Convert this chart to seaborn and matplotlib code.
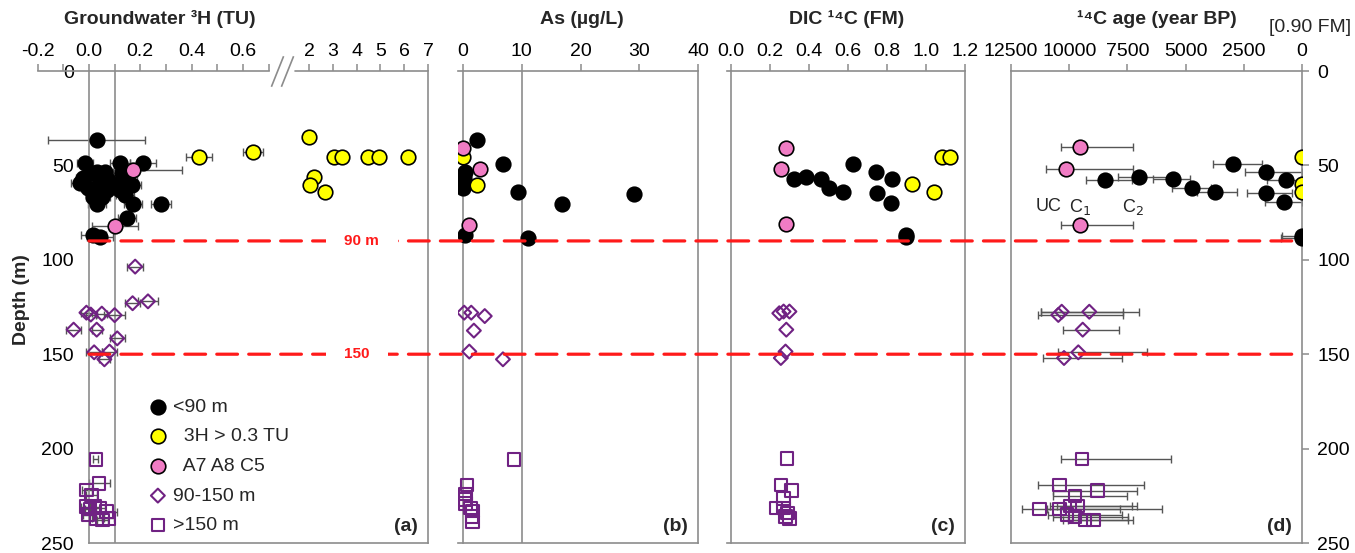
import numpy as np
import matplotlib
matplotlib.use("Agg")
import matplotlib.pyplot as plt
import seaborn as sns
from matplotlib.patches import ConnectionPatch
from matplotlib.path import Path
from matplotlib.ticker import FormatStrFormatter

sns.set_style("white")
plt.rcParams['font.family'] = ['Liberation Sans', 'DejaVu Sans']

# ---------------------------------------------------------------- data
# Panel (a): groundwater tritium (TU) with 1-sigma uncertainty
h3_shallow_tu = [0.03, -0.016, 0.12, 0.21, -0.035, -0.022, 0.01, 0.03, 0.062, 0.043,
                 0.075, -0.003, 0.03, 0.069, 0.017, 0.05, 0.03, 0.127, 0.147, 0.166,
                 0.12, 0.14, 0.10, 0.17, 0.28, 0.147, 0.017, 0.043]
h3_shallow_depth = [36.5, 48.9, 48.9, 48.5, 59.5, 56.8, 54.2, 53.3, 53.3, 57.7,
                    57.7, 62.1, 63.0, 63.0, 66.6, 66.6, 70.5, 54.2, 57.7, 60.4,
                    63.0, 65.7, 60.4, 70.5, 70.5, 78.0, 86.9, 88.1]
h3_shallow_err = [0.19, 0.03, 0.04, 0.05, 0.035, 0.03, 0.03, 0.03, 0.03, 0.03,
                  0.035, 0.03, 0.03, 0.03, 0.03, 0.03, 0.035, 0.035, 0.04, 0.035,
                  0.035, 0.035, 0.03, 0.035, 0.04, 0.035, 0.05, 0.05]
h3_trit_tu = [0.43, 0.64, 2.02, 3.04, 3.40, 4.46, 4.93, 6.16, 2.19, 2.05, 2.69]
h3_trit_depth = [45.7, 42.7, 34.8, 45.7, 45.7, 45.7, 45.7, 45.7, 56.0, 60.4, 63.9]
h3_trit_err = [0.05, 0.04, 0, 0, 0, 0, 0, 0, 0, 0, 0]
h3_pink_tu = [0.173, 0.10]
h3_pink_depth = [52.4, 82.1]
h3_pink_err = [0.19, 0.09]
h3_mid_tu = [0.18, 0.17, 0.23, -0.01, 0.007, 0.05, 0.10, -0.06, 0.03, 0.11, 0.02, 0.08, 0.06]
h3_mid_depth = [103.6, 123.0, 122.0, 128.0, 129.0, 128.5, 129.3, 137.0, 137.0, 141.6,
                149.0, 148.6, 152.7]
h3_mid_err = [0.03, 0.03, 0.04, 0.02, 0.02, 0.02, 0.04, 0.03, 0.02, 0.03, 0.03, 0.03, 0.02]
h3_deep_tu = [0.027, 0.04, -0.009, 0.01, -0.012, 0.004, 0.023, 0.043, 0.069, -0.003,
              0.03, 0.053, 0.079]
h3_deep_depth = [205.7, 218.4, 222.0, 224.6, 230.7, 232.0, 230.7, 231.5, 233.4, 235.0,
                 237.0, 237.8, 237.0]
h3_deep_err = [0.01, 0.04, 0.02, 0.02, 0.02, 0.02, 0.02, 0.02, 0.04, 0.02, 0.02, 0.02, 0.02]

# Panel (b): arsenic (ug/L)
as_shallow = [2.4, 6.85, 0.34, 0.2, 0.1, 0.0, 9.4, 29.1, 16.9, 0.34, 11.1]
as_shallow_depth = [36.5, 49.3, 53.3, 56.8, 59.5, 62.1, 64.3, 65.3, 70.4, 86.9, 88.6]
as_pink = [0.05, 2.9, 1.07]
as_pink_depth = [40.6, 52.0, 81.6]
as_trit = [0.05, 2.3]
as_trit_depth = [45.4, 60.4]
as_mid = [0.2, 1.4, 3.7, 1.85, 1.07, 6.8]
as_mid_depth = [128.0, 128.0, 129.8, 137.5, 148.6, 152.7]
as_deep = [8.7, 0.65, 0.45, 0.3, 0.45, 1.25, 1.6, 1.5, 1.6]
as_deep_depth = [205.7, 219.3, 224.0, 227.0, 229.0, 231.5, 233.0, 236.0, 239.0]

# Panel (c): DIC radiocarbon (fraction modern)
fm_shallow = [0.325, 0.385, 0.46, 0.504, 0.573, 0.627, 0.742, 0.827, 0.747, 0.819, 0.897, 0.90]
fm_shallow_depth = [57.4, 56.0, 57.4, 62.1, 63.9, 49.3, 53.3, 57.4, 64.8, 69.7, 86.9, 88.0]
fm_pink = [0.282, 0.256, 0.282]
fm_pink_depth = [40.6, 52.0, 81.0]
fm_trit = [1.08, 1.123, 0.93, 1.041]
fm_trit_depth = [45.4, 45.4, 60.0, 63.9]
fm_mid = [0.248, 0.27, 0.30, 0.284, 0.28, 0.256]
fm_mid_depth = [128.3, 127.4, 127.4, 137.0, 148.6, 152.0]
fm_deep = [0.288, 0.256, 0.31, 0.27, 0.23, 0.27, 0.29, 0.30, 0.28]
fm_deep_depth = [205.3, 219.3, 222.3, 226.5, 231.6, 231.6, 234.0, 237.0, 236.0]

# Panel (d): 14C age (years BP) with range between correction models (old end, young end)
age_shallow = [2950, 1546, 687, 8462, 7000, 5555, 4738, 3737, 1546, 773, 0, 20]
age_shallow_depth = [49.3, 53.7, 57.7, 57.7, 56.3, 57.2, 62.0, 63.9, 64.8, 69.6, 87.2, 88.5]
age_shallow_old = [3836, 2448, 1517, 9278, 7890, 6387, 5597, 4500, 2375, 1590, 872, 900]
age_shallow_young = [1731, 14, 14, 7300, 5597, 4800, 3900, 2806, 442, 14, 0, 0]
age_pink = [9536, 10137, 9536]
age_pink_depth = [40.4, 52.0, 81.6]
age_pink_old = [10365, 10997, 10365]
age_pink_young = [7247, 7247, 7247]
age_trit = [0, 0, 0]
age_trit_depth = [45.4, 60.0, 63.9]
age_mid = [10322, 10468, 9137, 9420, 9609, 10223]
age_mid_depth = [127.5, 129.2, 127.5, 137.0, 149.0, 152.0]
age_mid_old = [11224, 11327, 11224, 10279, 10468, 11138]
age_mid_young = [7702, 7702, 7000, 7848, 6670, 7745]
age_deep = [9450, 10425, 8776, 9751, 11284, 10425, 9966, 9635, 10107, 9751, 9321, 8963]
age_deep_depth = [205.5, 219.3, 222.3, 225.0, 232.0, 232.0, 230.4, 230.4, 235.0, 236.0,
                  237.8, 237.8]
age_deep_old = [10352, 11327, 10682, 10682, 12040, 10966, 10824, 10537, 10896, 10682,
                10252, 10038]
age_deep_young = [5627, 6787, 7100, 7530, 6026, 7818, 7315, 7100, 7745, 7460, 7460, 7247]

# correction-model labels (uncorrected, C1, C2) and their position on the age axis
corr_labels = ["UC", "C$_1$", "C$_2$"]
corr_ages = [10900, 9536, 7247]
corr_depth = 72

threshold_depths = [90, 150]
threshold_labels = ["90 m", "150"]

# ---------------------------------------------------------------- styles
PURPLE = "#702283"
PINK = "#F07CC4"
YELLOW = "#FFFF00"
SPINE = "#8C8C8C"
ERR = "#555555"
FS = 14

STYLE = {
    "shallow": dict(marker="o", s=110, facecolor="black", edgecolor="black", linewidth=1.2),
    "trit": dict(marker="o", s=110, facecolor=YELLOW, edgecolor="black", linewidth=1.2),
    "pink": dict(marker="o", s=110, facecolor=PINK, edgecolor="black", linewidth=1.2),
    "mid": dict(marker="D", s=50, facecolor="none", edgecolor=PURPLE, linewidth=1.5),
    "deep": dict(marker="s", s=80, facecolor="none", edgecolor=PURPLE, linewidth=1.5),
}
LABELS = {"shallow": "<90 m", "trit": "  3H > 0.3 TU", "pink": "  A7 A8 C5",
          "mid": "90-150 m", "deep": ">150 m"}


def draw(ax, key, x, y, xerr=None, label=False):
    if xerr is not None:
        ax.errorbar(x, y, xerr=xerr, fmt="none", ecolor=ERR, elinewidth=1,
                    capsize=3, capthick=1, zorder=2)
    kw = dict(STYLE[key])
    if label:
        kw["label"] = LABELS[key]
    sns.scatterplot(x=x, y=y, ax=ax, zorder=3, **kw)


# broken x-scale for tritium: 0..0.7 linear, then compressed 1.43..7
A0, B0, G, R = 0.7, 1.43, 0.105, 0.0928


def fwd(x):
    x = np.asarray(x, float)
    return np.where(x <= A0, x,
                    np.where(x < B0, A0 + (x - A0) * G / (B0 - A0), A0 + G + (x - B0) * R))


def inv(t):
    t = np.asarray(t, float)
    return np.where(t <= A0, t,
                    np.where(t < A0 + G, A0 + (t - A0) * (B0 - A0) / G, B0 + (t - A0 - G) / R))


fig = plt.figure(figsize=(13.55, 5.53), dpi=100)
bot, hgt = 0.01808, 0.8535
ax_a = fig.add_axes([0.02782, bot, 0.28805, hgt])
ax_b = fig.add_axes([0.33823, bot, 0.1769, hgt])
ax_c = fig.add_axes([0.53653, bot, 0.17565, hgt])
ax_d = fig.add_axes([0.74613, bot, 0.21476, hgt])

# ---------------- panel (a)
ax_a.set_xscale("function", functions=(fwd, inv))
ax_a.axvline(0.1, color=SPINE, lw=1.2, zorder=1)
draw(ax_a, "shallow", h3_shallow_tu, h3_shallow_depth, h3_shallow_err, label=True)
draw(ax_a, "trit", h3_trit_tu, h3_trit_depth, h3_trit_err, label=True)
draw(ax_a, "pink", h3_pink_tu, h3_pink_depth, h3_pink_err, label=True)
draw(ax_a, "mid", h3_mid_tu, h3_mid_depth, h3_mid_err, label=True)
draw(ax_a, "deep", h3_deep_tu, h3_deep_depth, h3_deep_err, label=True)

# ---------------- panel (b)
ax_b.axvline(10, color=SPINE, lw=1.2, zorder=1)
draw(ax_b, "shallow", as_shallow, as_shallow_depth)
draw(ax_b, "trit", as_trit, as_trit_depth)
draw(ax_b, "pink", as_pink, as_pink_depth)
draw(ax_b, "mid", as_mid, as_mid_depth)
draw(ax_b, "deep", as_deep, as_deep_depth)

# ---------------- panel (c)
draw(ax_c, "shallow", fm_shallow, fm_shallow_depth)
draw(ax_c, "trit", fm_trit, fm_trit_depth)
draw(ax_c, "pink", fm_pink, fm_pink_depth)
draw(ax_c, "mid", fm_mid, fm_mid_depth)
draw(ax_c, "deep", fm_deep, fm_deep_depth)


# ---------------- panel (d)
def age_err(age, old, young):
    a, o, y = map(np.asarray, (age, old, young))
    return np.vstack([a - y, o - a])


draw(ax_d, "shallow", age_shallow, age_shallow_depth,
     age_err(age_shallow, age_shallow_old, age_shallow_young))
draw(ax_d, "trit", age_trit, age_trit_depth)
draw(ax_d, "pink", age_pink, age_pink_depth, age_err(age_pink, age_pink_old, age_pink_young))
draw(ax_d, "mid", age_mid, age_mid_depth, age_err(age_mid, age_mid_old, age_mid_young))
draw(ax_d, "deep", age_deep, age_deep_depth, age_err(age_deep, age_deep_old, age_deep_young))
for lab, a in zip(corr_labels, corr_ages):
    ax_d.text(a, corr_depth, lab, fontsize=FS - 1, ha="center", va="center")

# ---------------- common axis styling
for ax in (ax_a, ax_b, ax_c, ax_d):
    ax.set_ylim(250, 0)
    ax.set_yticks(range(0, 251, 50))
    ax.set_xlabel("")
    ax.set_ylabel("")
    for sp in ax.spines.values():
        sp.set_color(SPINE)
        sp.set_linewidth(1.2)
    ax.xaxis.tick_top()
    ax.tick_params(axis="both", direction="out", length=5, width=1.1, color=SPINE,
                   labelsize=FS, labelcolor="black")
    ax.tick_params(axis="x", pad=3)
    ax.tick_params(axis="y", pad=6)

# panel (a) axes with break
ax_a.set_xlim(-0.2, 7)
a_ticks = [-0.2, -0.1, 0, 0.1, 0.2, 0.3, 0.4, 0.5, 0.6, 0.7, 2, 3, 4, 5, 6, 7]
a_labels = ["-0.2", "", "0.0", "", "0.2", "", "0.4", "", "0.6", "", "2", "3", "4", "5", "6", "7"]
ax_a.set_xticks(a_ticks)
ax_a.set_xticklabels(a_labels)
ax_a.minorticks_off()
ax_a.spines["left"].set_position(("data", 0))
ax_a.spines["top"].set_bounds(-0.2, A0)
ax_a.spines["bottom"].set_bounds(0, 7)
ax_a.plot([B0, 7], [1, 1], transform=ax_a.get_xaxis_transform(), color=SPINE,
          lw=1.2, clip_on=False, zorder=5)
slash = Path([(-0.4, -1.0), (0.4, 1.0)], [Path.MOVETO, Path.LINETO])
brk = (A0 + B0) / 2
ax_a.plot([brk - 0.13, brk + 0.13], [1, 1], transform=ax_a.get_xaxis_transform(),
          linestyle="none", marker=slash, markersize=22, markeredgecolor=SPINE,
          markeredgewidth=1.2, clip_on=False, zorder=5)

# panel (b)
ax_b.set_xlim(-0.8, 40)
ax_b.set_xticks([0, 10, 20, 30, 40])
ax_b.spines["left"].set_position(("data", 0))
ax_b.tick_params(axis="y", labelleft=False)

# panel (c)
ax_c.set_xlim(-0.02, 1.2)
ax_c.set_xticks(np.arange(0, 1.21, 0.2))
ax_c.xaxis.set_major_formatter(FormatStrFormatter("%.1f"))
ax_c.spines["left"].set_position(("data", 0))
ax_c.tick_params(axis="y", labelleft=False)

# panel (d)
ax_d.set_xlim(12500, 0)
ax_d.set_xticks([12500, 10000, 7500, 5000, 2500, 0])
ax_d.yaxis.tick_right()
ax_d.tick_params(axis="y", labelright=True, labelleft=False)
ax_d.text(1.027, 1.093, "[0.90 FM]", transform=ax_d.transAxes, fontsize=FS,
          ha="center", va="center")

# titles
titles = [(ax_a, 0.313, "Groundwater ³H (TU)"), (ax_b, 0.515, "As (µg/L)"),
          (ax_c, 0.503, "DIC ¹⁴C (FM)"), (ax_d, 0.50, "¹⁴C age (year BP)")]
for ax, xf, t in titles:
    ax.text(xf, 1.11, t, transform=ax.transAxes, fontsize=FS, fontweight="bold",
            ha="center", va="center")

# panel letters
for ax, lt in zip((ax_a, ax_b, ax_c, ax_d), ("(a)", "(b)", "(c)", "(d)")):
    ax.annotate(lt, xy=(1, 0), xycoords="axes fraction", xytext=(-7, 6),
                textcoords="offset points", ha="right", va="bottom",
                fontsize=FS, fontweight="bold")

fig.text(0.0162, 1 - 300 / 553, "Depth (m)", rotation=90, fontsize=FS,
         fontweight="bold", ha="center", va="center")

# legend
leg = ax_a.legend(loc="upper left", bbox_to_anchor=(0.283, 0.307), frameon=False,
                  fontsize=FS, borderpad=0, borderaxespad=0, handlelength=1.0,
                  handletextpad=0.3, labelspacing=0.62, scatterpoints=1)

# depth thresholds drawn across all panels
for d, lab, xl in zip(threshold_depths, threshold_labels, [4.22, 4.0]):
    con = ConnectionPatch(xyA=(0, d), coordsA=ax_a.transData, xyB=(0, d),
                          coordsB=ax_d.transData, arrowstyle="-", color="#FF1A1A",
                          linewidth=2.3, linestyle=(0, (6.5, 3.5)), shrinkA=0,
                          shrinkB=0, zorder=3)
    fig.add_artist(con)
    fig.text(xl, d, lab, transform=ax_a.transData, color="#FF1A1A", fontsize=11,
             fontweight="bold", ha="center", va="center", zorder=4,
             bbox=dict(boxstyle="square,pad=1.2", fc="white", ec="none"))

fig.savefig("out.png", dpi=100)
